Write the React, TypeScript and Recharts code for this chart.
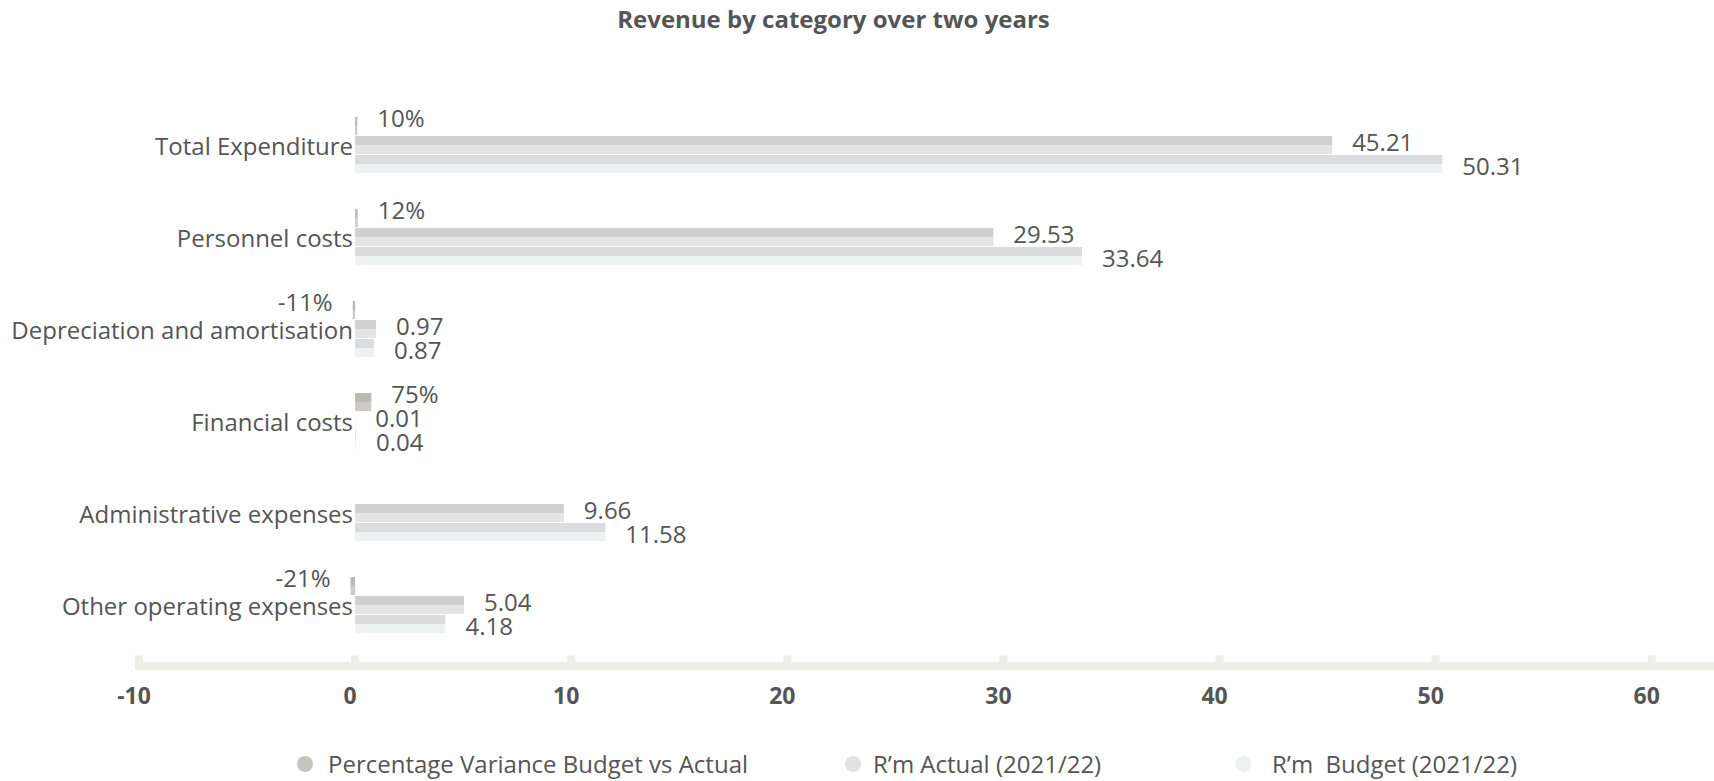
import React from 'react';
import { BarChart, Bar, XAxis, YAxis, LabelList } from 'recharts';

const categories = [
  'Total Expenditure',
  'Personnel costs',
  'Depreciation and amortisation',
  'Financial costs',
  'Administrative expenses',
  'Other operating expenses',
];
const pctVariance: (number | null)[] = [0.1, 0.12, -0.11, 0.75, null, -0.21];
const actualValues = [45.21, 29.53, 0.97, 0.01, 9.66, 5.04];
const budgetValues = [50.31, 33.64, 0.87, 0.04, 11.58, 4.18];
const xTicks = [-10, 0, 10, 20, 30, 40, 50, 60];
const seriesNames = [
  'Percentage Variance Budget vs Actual',
  'R\u2019m Actual (2021/22)',
  'R\u2019m  Budget (2021/22)',
];
const seriesKeys = ['pct', 'actual', 'budget'];

const data = categories.map((name, i) => ({
  name,
  pct: pctVariance[i],
  actual: actualValues[i],
  budget: budgetValues[i],
}));

const FONT = "'Open Sans', sans-serif";
const TEXT = '#555555';

const styles = [
  { top: '#bcb8b4', bottom: '#cdcac6', legend: '#c8c5c0', dy: -8 },
  { top: '#d0d0d0', bottom: '#e4e4e4', legend: '#e1e1e1', dy: -3 },
  { top: '#dbdcde', bottom: '#eff2f2', legend: '#eef1f1', dy: 2 },
];

const legendCircleX = [305, 853, 1243];
const legendTextX = [328, 873, 1272];

const XTick = (props: any) => {
  const { x, y, payload } = props;
  return (
    <g>
      <rect x={x - 4} y={y - 10.5} width={8} height={7} fill="#eeede8" />
      <text
        x={x - 5}
        y={y + 29}
        textAnchor="middle"
        dominantBaseline="central"
        fontFamily={FONT}
        fontWeight={700}
        fontSize={23}
        fill={TEXT}
      >
        {payload.value}
      </text>
    </g>
  );
};

const YTick = (props: any) => {
  const { x, y, payload } = props;
  return (
    <text
      x={x + 218}
      y={y}
      textAnchor="end"
      dominantBaseline="central"
      fontFamily={FONT}
      fontSize={24}
      fill={TEXT}
    >
      {payload.value}
    </text>
  );
};

const fmtNum = (v: any) => (v == null ? '' : Number(v).toFixed(2));
const fmtPct = (v: any) => (v == null ? '' : `${Math.round(Number(v) * 100)}%`);

export default function App() {
  return (
    <div style={{ position: 'absolute', left: 0, top: 0, width: 1714, height: 781, background: '#fff' }}>
      <div
        style={{
          position: 'absolute',
          left: 0,
          width: 1667,
          top: 4,
          textAlign: 'center',
          fontFamily: FONT,
          fontWeight: 700,
          fontSize: 24,
          lineHeight: '30px',
          color: TEXT,
        }}
      >
        Revenue by category over two years
      </div>
      <BarChart
        width={1714}
        height={781}
        data={data}
        layout="vertical"
        margin={{ top: 99, right: 0, bottom: 55, left: 0 }}
        barSize={18}
        barGap={1}
      >
        <defs>
          {styles.map((s, i) => (
            <linearGradient key={i} id={`grad${i}`} x1="0" y1="0" x2="0" y2="1">
              <stop offset="0" stopColor={s.top} />
              <stop offset="0.5" stopColor={s.top} />
              <stop offset="0.5" stopColor={s.bottom} />
              <stop offset="1" stopColor={s.bottom} />
            </linearGradient>
          ))}
        </defs>
        <XAxis
          type="number"
          domain={[-10, 62.88]}
          ticks={xTicks}
          padding={{ left: 4, right: 0 }}
          height={60}
          axisLine={{ stroke: '#eeede8', strokeWidth: 8 }}
          tickLine={false}
          tickSize={0}
          tickMargin={0}
          tick={<XTick />}
          interval={0}
        />
        <YAxis
          type="category"
          dataKey="name"
          width={135}
          axisLine={false}
          tickLine={false}
          tickSize={0}
          tickMargin={0}
          tick={<YTick />}
          interval={0}
          padding={{ top: 0, bottom: 15 }}
        />
        {seriesKeys.map((k, i) => (
          <Bar key={k} dataKey={k} name={seriesNames[i]} fill={`url(#grad${i})`} isAnimationActive={false}>
            <LabelList
              dataKey={k}
              position="right"
              offset={20}
              dy={styles[i].dy}
              formatter={i === 0 ? fmtPct : fmtNum}
              fill={TEXT}
              fontSize={24}
              fontFamily={FONT}
            />
          </Bar>
        ))}
      </BarChart>
      {seriesNames.map((n, i) => (
        <React.Fragment key={n}>
          <span
            style={{
              position: 'absolute',
              left: legendCircleX[i] - 8,
              top: 756,
              width: 16,
              height: 16,
              borderRadius: 8,
              background: styles[i].legend,
            }}
          />
          <span
            style={{
              position: 'absolute',
              left: legendTextX[i],
              top: 748,
              lineHeight: '32px',
              fontFamily: FONT,
              fontSize: 24,
              color: TEXT,
              whiteSpace: 'pre',
            }}
          >
            {n}
          </span>
        </React.Fragment>
      ))}
    </div>
  );
}
